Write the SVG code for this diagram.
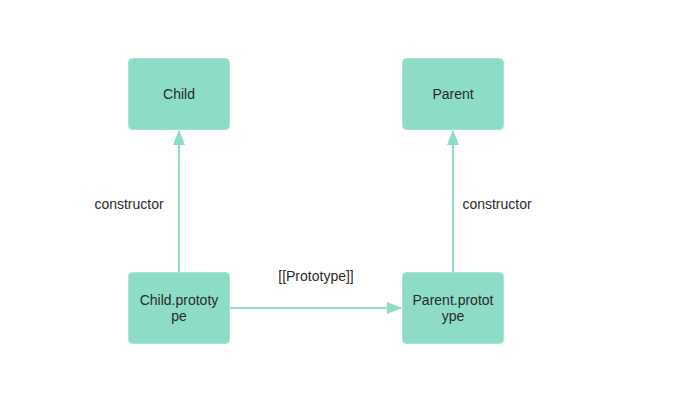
<svg xmlns="http://www.w3.org/2000/svg" width="673" height="406" viewBox="0 0 673 406">
<style>
.box{fill:#8ddcc7;stroke:#a6e4d3;stroke-width:1}
.t{font-family:"Liberation Sans",Arial,sans-serif;font-size:14px;fill:#2b2b2b;text-anchor:middle}
.l{fill:none;stroke:#8ddcc7;stroke-width:2}
</style>
<defs>
<marker id="ah" markerWidth="16" markerHeight="12" refX="14" refY="6" orient="auto" markerUnits="userSpaceOnUse">
<path d="M0,0 L15,6 L0,12 Z" fill="#8ddcc7"/>
</marker>
</defs>
<rect width="673" height="406" fill="#ffffff"/>
<g id="connectors">
<line class="l" x1="179" y1="272" x2="179" y2="131" marker-end="url(#ah)"/>
<line class="l" x1="453" y1="272" x2="453" y2="131" marker-end="url(#ah)"/>
<line class="l" x1="230" y1="308" x2="401" y2="308" marker-end="url(#ah)"/>
<text class="t" x="129" y="209">constructor</text>
<text class="t" x="497" y="209">constructor</text>
<text class="t" x="316" y="281">[[Prototype]]</text>
</g>
<g id="child">
<rect class="box" x="128.5" y="58.5" width="101" height="71" rx="4"/>
<text class="t" x="179" y="99">Child</text>
</g>
<g id="parent">
<rect class="box" x="402.5" y="58.5" width="101" height="71" rx="4"/>
<text class="t" x="453" y="99">Parent</text>
</g>
<g id="child-prototype">
<rect class="box" x="128.5" y="272.5" width="101" height="71" rx="4"/>
<text class="t" x="179" y="305">Child.prototy</text>
<text class="t" x="179" y="321">pe</text>
</g>
<g id="parent-prototype">
<rect class="box" x="402.5" y="272.5" width="101" height="71" rx="4"/>
<text class="t" x="453" y="305">Parent.protot</text>
<text class="t" x="453" y="321">ype</text>
</g>
</svg>
